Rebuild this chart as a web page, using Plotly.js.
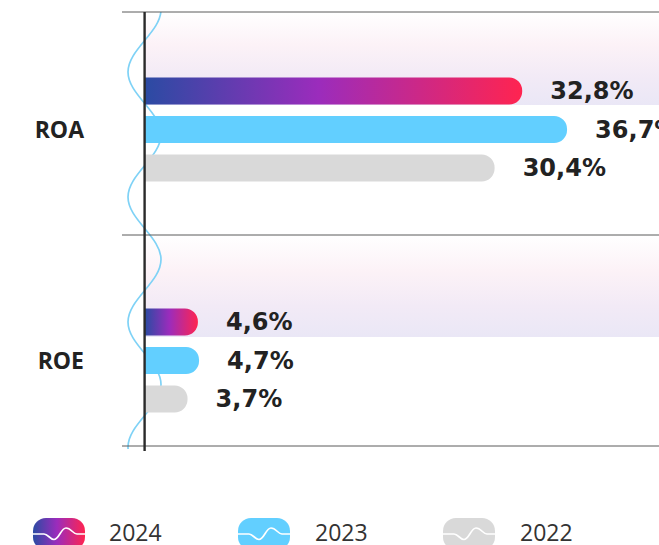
<!DOCTYPE html>
<html>
<head>
<meta charset="utf-8">
<script src="https://cdn.plot.ly/plotly-3.0.1.min.js"></script>
<style>
html,body{margin:0;padding:0;overflow:hidden;background:#fff;}
#chart{width:720px;height:560px;}
</style>
</head>
<body>
<div id="chart"></div>
<script>
// ---- data ----
const categories = ['ROA', 'ROE'];
const seriesNames = ['2024', '2023', '2022'];
const values2024 = [32.8, 4.6];
const values2023 = [36.7, 4.7];
const values2022 = [30.4, 3.7];

// ---- geometry / style ----
const W = 720, H = 560, ML = 145, MR = 15, MT = 12, MB = 114;
const PW = W - ML - MR, PH = H - MT - MB;
const pxX = px => (px - ML) / PW;
const pxY = py => (MT + PH - py) / PH;
const svgURI = s => 'data:image/svg+xml;charset=utf-8,' + encodeURIComponent(s);

const C2023 = '#62cfff', C2022 = '#d9d9d9';
const gradStops = '<stop offset="0" stop-color="#2b4ba3"/><stop offset="0.46" stop-color="#9b2cbc"/><stop offset="1" stop-color="#ff2450"/>';

const pad = '\u00a0\u00a0\u00a0';
function barTrace(name, vals, color) {
  return {
    type: 'bar', orientation: 'h', name: name,
    x: vals, y: categories,
    marker: {color: color, cornerradius: 13},
    text: vals, texttemplate: pad + '%{x:.1f}%', textposition: 'outside',
    constraintext: 'none', cliponaxis: false,
    textfont: {family: 'DejaVu Sans', size: 24, color: '#222', weight: 'bold'},
    hoverinfo: 'none'
  };
}
const traces = [
  barTrace(seriesNames[0], values2024, '#9b2cbc'),
  barTrace(seriesNames[1], values2023, C2023),
  barTrace(seriesNames[2], values2022, C2022)
];

// background bands
const bandSVG = svgURI('<svg xmlns="http://www.w3.org/2000/svg" width="10" height="10" viewBox="0 0 10 10" preserveAspectRatio="none"><defs><linearGradient id="b" x1="0" y1="0" x2="0" y2="1"><stop offset="0" stop-color="#ffffff"/><stop offset="0.35" stop-color="#fcf2f7"/><stop offset="0.7" stop-color="#f2eaf6"/><stop offset="1" stop-color="#eae7f6"/></linearGradient></defs><rect width="10" height="10" fill="url(#b)"/></svg>');
function band(top, bottom) {
  return {source: bandSVG, xref: 'paper', yref: 'paper', x: 0, y: pxY(top), sizex: 1.2, sizey: (bottom - top) / PH,
    xanchor: 'left', yanchor: 'top', sizing: 'stretch', layer: 'below'};
}

// decorative wave
let d = 'M36,9.5', yy = 9.5, right = true;
const h = 62.5, k = 0.3642;
for (let i = 0; i < 8; i++) {
  const xa = right ? 36 : 3, xb = right ? 3 : 36;
  d += ` C${xa},${(yy + k * h).toFixed(2)} ${xb},${(yy + h - k * h).toFixed(2)} ${xb},${(yy + h).toFixed(2)}`;
  yy += h; right = !right;
}
const waveSVG = svgURI(`<svg xmlns="http://www.w3.org/2000/svg" width="40" height="437" viewBox="0 12 40 437"><path d="${d}" fill="none" stroke="#7fd2f6" stroke-width="1.7"/></svg>`);

// legend icons
function icon(fill, defs) {
  return svgURI(`<svg xmlns="http://www.w3.org/2000/svg" width="52" height="32" viewBox="0 0 52 32"><defs>${defs || ''}</defs><rect x="0" y="0" width="52" height="32" rx="13" ry="13" fill="${fill}"/><path d="M0,16 L11,16 C15,16 17,21.5 21,21.5 C26,21.5 28,10 33,10 C38,10 40,16 44,16 L52,16" fill="none" stroke="#ffffff" stroke-width="1.7"/></svg>`);
}
const legendItems = [
  {name: seriesNames[0], src: icon('url(#g)', '<linearGradient id="g" x1="0" y1="0" x2="1" y2="0">' + gradStops + '</linearGradient>'), ix: 33, tx: 107},
  {name: seriesNames[1], src: icon(C2023), ix: 238, tx: 313},
  {name: seriesNames[2], src: icon(C2022), ix: 443, tx: 518}
];

const images = [band(12.5, 105), band(235.5, 337),
  {source: waveSVG, xref: 'paper', yref: 'paper', x: pxX(125), y: pxY(12), sizex: 40 / PW, sizey: 437 / PH,
   xanchor: 'left', yanchor: 'top', sizing: 'stretch', layer: 'below'}];
const annotations = [];
legendItems.forEach(it => {
  images.push({source: it.src, xref: 'paper', yref: 'paper', x: pxX(it.ix), y: pxY(518), sizex: 52 / PW, sizey: 32 / PH,
    xanchor: 'left', yanchor: 'top', sizing: 'stretch', layer: 'above'});
  annotations.push({text: it.name, xref: 'paper', yref: 'paper', x: pxX(it.tx), y: pxY(532), xanchor: 'left', yanchor: 'middle',
    showarrow: false, font: {family: 'Open Sans', size: 23, color: '#333'}});
});

const lineY = [12, 235, 446];
const shapes = lineY.map(py => ({type: 'line', xref: 'paper', yref: 'paper', x0: pxX(122), x1: 1.2, y0: pxY(py), y1: pxY(py),
  line: {color: '#5a5a5a', width: 1}, layer: 'above'}));
shapes.push({type: 'line', xref: 'paper', yref: 'paper', x0: pxX(144.6), x1: pxX(144.6), y0: pxY(12), y1: pxY(451),
  line: {color: '#2a2a2a', width: 2.4}, layer: 'above'});

const layout = {
  width: W, height: H,
  margin: {l: ML, r: MR, t: MT, b: MB, pad: 0},
  paper_bgcolor: '#ffffff', plot_bgcolor: 'rgba(0,0,0,0)',
  separators: ', ',
  barmode: 'group', bargap: 0.5, bargroupgap: 0.3,
  showlegend: false,
  xaxis: {range: [0, PW / 11.5], visible: false, showgrid: false, zeroline: false},
  yaxis: {type: 'category', categoryorder: 'array', categoryarray: categories,
    range: [1.3701, -0.5087], showgrid: false, zeroline: false, showline: false,
    ticks: '', ticklabelstandoff: 60,
    tickfont: {family: 'Open Sans', size: 23, color: '#222', weight: 'bold'}},
  images: images, shapes: shapes, annotations: annotations
};

Plotly.newPlot('chart', traces, layout, {displayModeBar: false, staticPlot: true}).then(gd => {
  const svg = gd.querySelector('svg.main-svg');
  let defs = svg.querySelector('defs');
  const ns = 'http://www.w3.org/2000/svg';
  const lg = document.createElementNS(ns, 'linearGradient');
  lg.setAttribute('id', 'bar2024grad');
  lg.setAttribute('x1', '0'); lg.setAttribute('y1', '0'); lg.setAttribute('x2', '1'); lg.setAttribute('y2', '0');
  [['0', '#2b4ba3'], ['0.46', '#9b2cbc'], ['1', '#ff2450']].forEach(([o, c]) => {
    const s = document.createElementNS(ns, 'stop');
    s.setAttribute('offset', o); s.setAttribute('stop-color', c);
    lg.appendChild(s);
  });
  defs.appendChild(lg);
  const tr = gd.querySelectorAll('.barlayer .trace')[0];
  tr.querySelectorAll('.point path').forEach(p => { p.style.fill = 'url(#bar2024grad)'; });
});
</script>
</body>
</html>
